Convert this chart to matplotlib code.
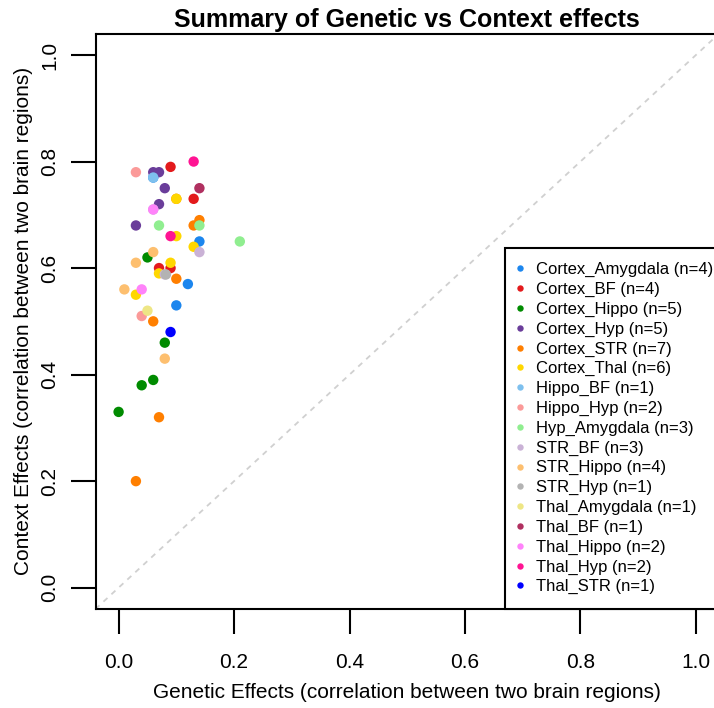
import matplotlib
matplotlib.use("Agg")
import matplotlib.pyplot as plt
from matplotlib.lines import Line2D

plt.rcParams['font.family'] = ['Liberation Sans', 'DejaVu Sans']

groups = ["Cortex_Amygdala", "Cortex_BF", "Cortex_Hippo", "Cortex_Hyp", "Cortex_STR",
          "Cortex_Thal", "Hippo_BF", "Hippo_Hyp", "Hyp_Amygdala", "STR_BF", "STR_Hippo",
          "STR_Hyp", "Thal_Amygdala", "Thal_BF", "Thal_Hippo", "Thal_Hyp", "Thal_STR"]
colors = ["#1C86EE", "#E31A1C", "#008B00", "#6A3D9A", "#FF7F00", "#FFD700", "#7EC0EE",
          "#FB9A99", "#90EE90", "#CAB2D6", "#FDBF6F", "#B3B3B3", "#EEE685", "#B03060",
          "#FF83FA", "#FF1493", "#0000FF"]

genetic = {
    "Cortex_Amygdala": [0.14, 0.12, 0.10, 0.06],
    "Cortex_BF": [0.09, 0.13, 0.07, 0.09],
    "Cortex_Hippo": [0.05, 0.08, 0.06, 0.04, 0.00],
    "Cortex_Hyp": [0.06, 0.07, 0.08, 0.07, 0.03],
    "Cortex_STR": [0.14, 0.13, 0.10, 0.06, 0.07, 0.03, 0.10],
    "Cortex_Thal": [0.10, 0.10, 0.13, 0.09, 0.07, 0.03],
    "Hippo_BF": [0.06],
    "Hippo_Hyp": [0.03, 0.04],
    "Hyp_Amygdala": [0.07, 0.14, 0.21],
    "STR_BF": [0.14, 0.08, 0.06],
    "STR_Hippo": [0.06, 0.03, 0.01, 0.08],
    "STR_Hyp": [0.082],
    "Thal_Amygdala": [0.05],
    "Thal_BF": [0.14],
    "Thal_Hippo": [0.06, 0.04],
    "Thal_Hyp": [0.13, 0.09],
    "Thal_STR": [0.09],
}
context = {
    "Cortex_Amygdala": [0.65, 0.57, 0.53, 0.77],
    "Cortex_BF": [0.79, 0.73, 0.60, 0.60],
    "Cortex_Hippo": [0.62, 0.46, 0.39, 0.38, 0.33],
    "Cortex_Hyp": [0.78, 0.78, 0.75, 0.72, 0.68],
    "Cortex_STR": [0.69, 0.68, 0.58, 0.50, 0.32, 0.20, 0.73],
    "Cortex_Thal": [0.73, 0.66, 0.64, 0.61, 0.59, 0.55],
    "Hippo_BF": [0.77],
    "Hippo_Hyp": [0.78, 0.51],
    "Hyp_Amygdala": [0.68, 0.68, 0.65],
    "STR_BF": [0.63, 0.588, 0.71],
    "STR_Hippo": [0.63, 0.61, 0.56, 0.43],
    "STR_Hyp": [0.588],
    "Thal_Amygdala": [0.52],
    "Thal_BF": [0.75],
    "Thal_Hippo": [0.71, 0.56],
    "Thal_Hyp": [0.80, 0.66],
    "Thal_STR": [0.48],
}
ticks = [0.0, 0.2, 0.4, 0.6, 0.8, 1.0]
tick_labels = ["0.0", "0.2", "0.4", "0.6", "0.8", "1.0"]

W, H = 714, 708
fig = plt.figure(figsize=(W / 100, H / 100), dpi=100)
L, R, T, B = 95.5, 719, 33.7, 609
ax = fig.add_axes([L / W, (H - B) / H, (R - L) / W, (B - T) / H])
ax.set_xlim(-0.04, 1.04)
ax.set_ylim(-0.04, 1.04)

ax.axline((0, 0), slope=1, color="#D0D0D0", linestyle=(0, (3, 3)), linewidth=1.3, zorder=1)

handles = []
for g, c in zip(groups, colors):
    ax.scatter(genetic[g], context[g], s=56, color=c, edgecolors='none', zorder=3)
    handles.append(Line2D([], [], linestyle='none', marker='o', markersize=4.6,
                          markerfacecolor=c, markeredgecolor='none',
                          label=f"{g} (n={len(genetic[g])})"))

for sp in ax.spines.values():
    sp.set_linewidth(1.5)
    sp.set_color("black")

ax.set_xticks(ticks)
ax.set_xticklabels(tick_labels)
ax.set_yticks(ticks)
ax.set_yticklabels(tick_labels, rotation=90, va='center')
ax.tick_params(axis='both', length=18, width=1.5, labelsize=15, colors='black')
ax.tick_params(axis='x', pad=14)
ax.tick_params(axis='y', pad=8)

ax.set_xlabel("Genetic Effects (correlation between two brain regions)", fontsize=15, va='center')
ax.xaxis.set_label_coords(0.5, (B - 692) / (B - T))
ax.set_ylabel("Context Effects (correlation between two brain regions)", fontsize=15, va='center')
ax.yaxis.set_label_coords((24 - L) / (R - L), 0.5)

fig.text(407 / W, (H - 20) / H, "Summary of Genetic vs Context effects",
         fontsize=18, fontweight='bold', ha='center', va='center')

leg = ax.legend(handles=handles, loc='lower left',
                bbox_to_anchor=((505 - L) / (R - L), 0), bbox_transform=ax.transAxes,
                fontsize=12, frameon=True, fancybox=False, borderaxespad=0,
                borderpad=0.88, handlelength=0.0, handletextpad=0.96,
                labelspacing=0.28, framealpha=1)
leg.get_frame().set_edgecolor('black')
leg.get_frame().set_linewidth(1.5)

fig.savefig("out.png", dpi=100)
